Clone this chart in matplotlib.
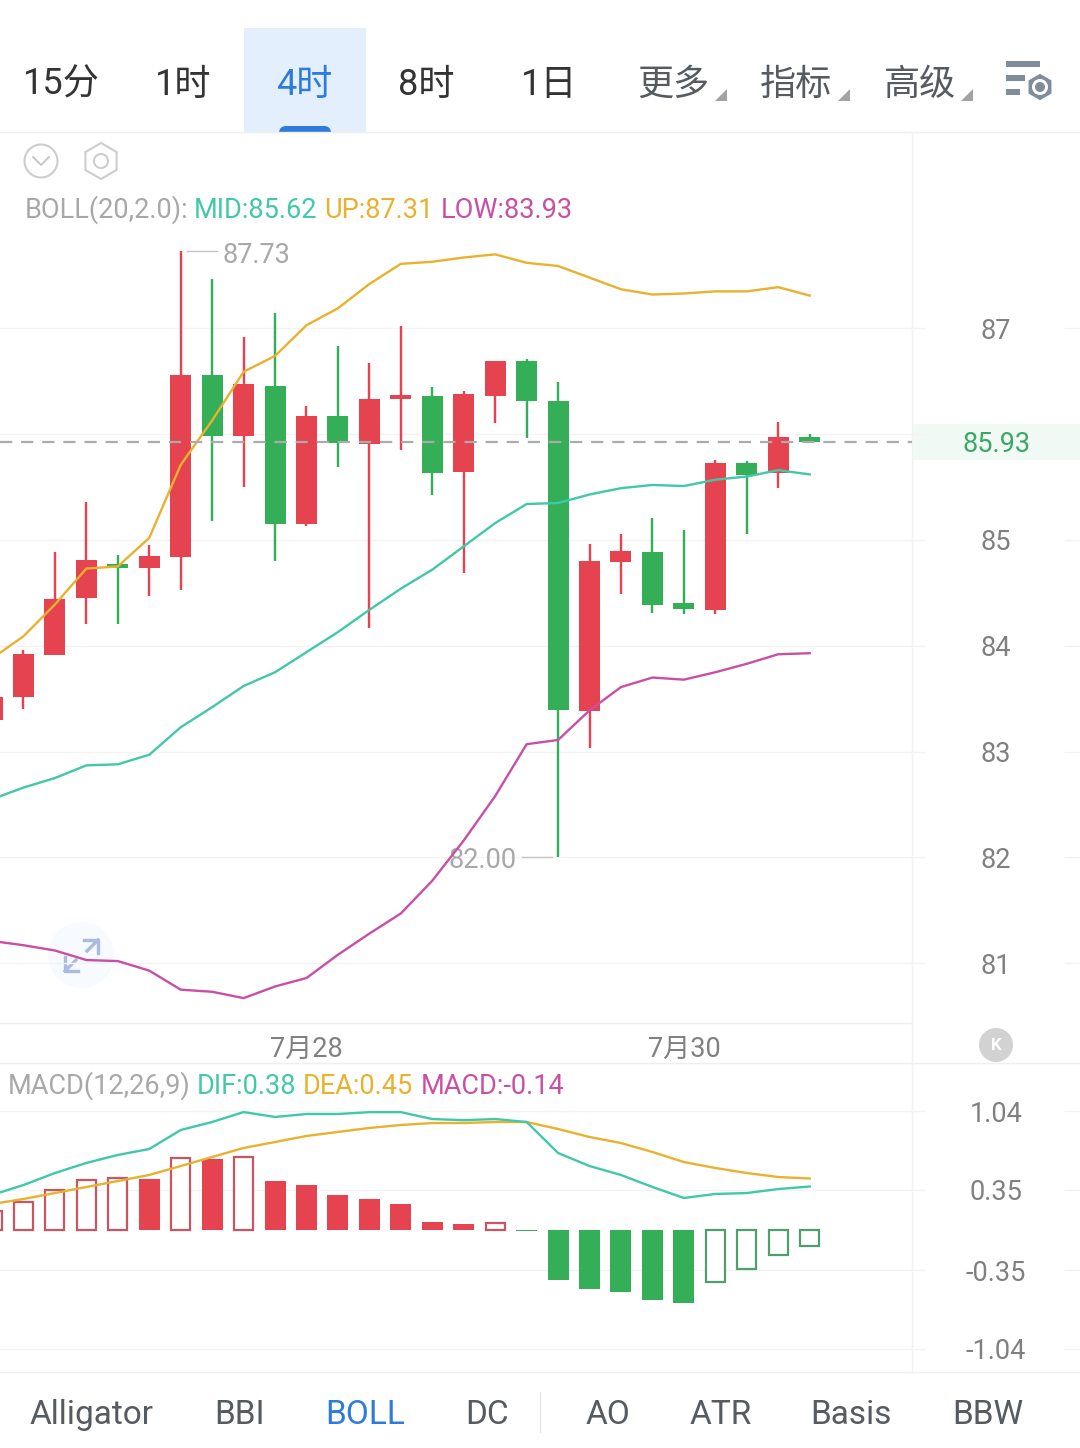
import matplotlib
matplotlib.use('Agg')
import matplotlib.pyplot as plt
import numpy as np
from matplotlib.patches import Circle, FancyBboxPatch, Polygon, RegularPolygon, Rectangle

plt.rcParams['font.family'] = ['Roboto', 'Noto Sans CJK SC', 'DejaVu Sans']

# 4h candles
opens = [83.30, 83.52, 83.91, 84.45, 84.77, 84.74, 84.84, 86.56, 85.98, 86.46, 85.15, 86.17, 85.91, 86.33,
         86.36, 85.64, 86.36, 86.69, 86.31, 83.38, 84.79, 84.89, 84.40, 84.34, 85.73, 85.63, 85.97]
closes = [83.52, 83.92, 84.44, 84.81, 84.74, 84.85, 86.56, 85.98, 86.47, 85.15, 86.17, 85.92, 86.33, 86.37,
          85.63, 86.38, 86.69, 86.31, 83.39, 84.80, 84.90, 84.39, 84.35, 85.73, 85.61, 85.97, 85.93]
highs = [83.55, 83.96, 84.89, 85.36, 84.86, 84.95, 87.73, 87.47, 86.92, 87.15, 86.27, 86.83, 86.67, 87.02,
         86.45, 86.41, 86.69, 86.71, 86.49, 84.96, 85.06, 85.21, 85.09, 85.76, 85.75, 86.12, 86.00]
lows = [83.30, 83.40, 83.91, 84.21, 84.21, 84.47, 84.53, 85.18, 85.50, 84.80, 85.13, 85.69, 84.17, 85.85,
        85.43, 84.69, 86.11, 85.96, 82.00, 83.03, 84.49, 84.31, 84.30, 84.30, 85.06, 85.49, 85.92]

boll_up = [83.88, 84.09, 84.39, 84.73, 84.75, 85.02, 85.71, 86.13, 86.59, 86.74, 87.03, 87.19, 87.42, 87.61,
           87.63, 87.67, 87.70, 87.62, 87.59, 87.48, 87.37, 87.32, 87.33, 87.35, 87.35, 87.39, 87.31]
boll_mid = [82.55, 82.66, 82.75, 82.87, 82.88, 82.97, 83.23, 83.42, 83.62, 83.75, 83.94, 84.13, 84.34, 84.54,
            84.72, 84.94, 85.16, 85.34, 85.35, 85.43, 85.49, 85.52, 85.51, 85.57, 85.60, 85.66, 85.62]
boll_low = [81.21, 81.17, 81.12, 81.03, 81.02, 80.93, 80.75, 80.73, 80.67, 80.78, 80.86, 81.08, 81.28, 81.47,
            81.78, 82.16, 82.58, 83.07, 83.11, 83.39, 83.61, 83.70, 83.68, 83.75, 83.83, 83.92, 83.93]

macd_hist = [0.17, 0.245, 0.35, 0.437, 0.455, 0.446, 0.629, 0.621, 0.638, 0.428, 0.393, 0.306, 0.271, 0.227,
             0.07, 0.052, 0.061, -0.005, -0.437, -0.516, -0.542, -0.612, -0.638, -0.455, -0.341, -0.219, -0.14]
macd_hollow = [1, 1, 1, 1, 1, 0, 1, 0, 1, 0, 0, 0, 0, 0, 0, 0, 1, 0, 0, 0, 0, 0, 0, 1, 1, 1, 1]
dif = [0.306, 0.393, 0.498, 0.586, 0.656, 0.708, 0.874, 0.944, 1.031, 0.988, 1.014, 1.014, 1.03, 1.03,
       0.97, 0.96, 0.97, 0.944, 0.673, 0.559, 0.481, 0.376, 0.28, 0.315, 0.323, 0.358, 0.38]
dea = [0.227, 0.271, 0.323, 0.376, 0.428, 0.481, 0.559, 0.638, 0.717, 0.769, 0.822, 0.857, 0.892, 0.918,
       0.935, 0.935, 0.944, 0.944, 0.883, 0.813, 0.76, 0.682, 0.594, 0.542, 0.498, 0.463, 0.45]

price_ticks = [81, 82, 83, 84, 85, 86, 87]
price_labels = ['81', '82', '83', '84', '85', '', '87']
macd_ticks = [-1.04, -0.35, 0.35, 1.04]
macd_labels = ['-1.04', '-0.35', '0.35', '1.04']
date_ticks = [10, 22]
date_labels = ['7月28', '7月30']
last_price = 85.93

top_tabs = ['15分', '1时', '4时', '8时', '1日', '更多', '指标', '高级']
top_tab_x = [61, 183, 304, 426, 549, 673, 796, 920]
bottom_tabs = ['Alligator', 'BBI', 'BOLL', 'DC', 'AO', 'ATR', 'Basis', 'BBW']
bottom_tab_x = [92, 240, 365, 487, 608, 721, 851, 988]

RED = '#e5434f'
GREEN = '#34ae57'
RED_EDGE = '#c95563'
GREEN_EDGE = '#4f9e6b'
TEAL = '#41c8a8'
GOLD = '#e9b12e'
PINK = '#c94fa6'
BLUE = '#2d7bdb'
GRAY_TEXT = '#a8a8a8'
TICK_TEXT = '#808080'
GRID = '#f3f3f3'
W, H = 1080, 1448
PITCH = 31.45  # pixels per candle
X0 = -8        # pixel of candle 0
LINE_W = 1.7


def px_rect(left, top, right, bottom):
    return [left / W, 1 - bottom / H, (right - left) / W, (bottom - top) / H]


fig = plt.figure(figsize=(W / 100, H / 100), dpi=100, facecolor='white')

# ---- app chrome, drawn in pixel space ----
ui = fig.add_axes([0, 0, 1, 1])
ui.set_xlim(0, W)
ui.set_ylim(H, 0)
ui.axis('off')

ui.add_patch(Rectangle((244, 28), 122, 104, fc='#e3effc', ec='none'))
ui.add_patch(FancyBboxPatch((282, 129), 46, 8, boxstyle='round,pad=0,rounding_size=4',
                            fc=BLUE, ec=BLUE, lw=6 * 0.72, clip_on=True))
ui.add_patch(Rectangle((244, 132), 122, 12, fc='white', ec='none'))
for i, (label, x) in enumerate(zip(top_tabs, top_tab_x)):
    color = BLUE if i == 2 else ('#333333' if i < 5 else '#555b61')
    ui.text(x, 85, label, fontsize=26, color=color, ha='center', va='center')
for x in [727, 850, 973]:
    ui.add_patch(Polygon([(x, 89), (x, 101), (x - 12, 101)], fc='#a3a3a3', ec='none'))

# settings icon
for x1, y in [(1040, 64), (1025, 78), (1020, 92)]:
    ui.add_patch(Rectangle((1006, y - 3), x1 - 1006, 6, fc='#7f8c9a', ec='none'))
ui.add_patch(RegularPolygon((1040, 87), 6, radius=14, fc='#7f8c9a', ec='white', lw=1))
ui.add_patch(Circle((1040, 87), 8, fc='white', ec='none'))
ui.add_patch(Circle((1040, 87), 5, fc='#7f8c9a', ec='none'))

# collapse and settings buttons
ui.add_patch(Circle((41, 161), 16.5, fc='none', ec='#cdcdcd', lw=1.5))
ui.plot([33, 41, 49], [157, 165, 157], color='#c4c4c4', lw=1.3)
ui.add_patch(RegularPolygon((101, 161), 6, radius=18, fc='none', ec='#cdcdcd', lw=1.5))
ui.add_patch(Circle((101, 161), 7, fc='none', ec='#cdcdcd', lw=1.5))

# fullscreen button
ui.add_patch(Circle((81, 955), 33, fc='#f7faff', ec='none'))
ui.plot([84, 98, 98], [940, 940, 953], color='#a9bbe0', lw=2.4)
ui.plot([98, 87], [940, 951], color='#a9bbe0', lw=2.4)
ui.plot([65, 65, 78], [957, 971, 971], color='#a9bbe0', lw=2.4)
ui.plot([65, 76], [971, 960], color='#a9bbe0', lw=2.4)

# current price band
ui.add_patch(Rectangle((912, 424), 168, 36, fc='#f1f9f4', ec='none'))
ui.text(997, 445, f'{last_price:.2f}', fontsize=19.5, color='#3aa864', ha='center', va='center')

# panel borders
for y in [132, 1063, 1372]:
    ui.plot([0, W], [y, y], color='#efefef', lw=1)
ui.plot([0, 912], [1023, 1023], color='#efefef', lw=1)
ui.plot([912, 912], [132, 1372], color='#f1f1f1', lw=1)

# header values of both indicators
for s, x, c in [('BOLL(20,2.0):', 25, GRAY_TEXT), ('MID:85.62', 194, TEAL),
                ('UP:87.31', 324, GOLD), ('LOW:83.93', 441, PINK)]:
    ui.text(x, 210, s, fontsize=19.5, color=c, ha='left', va='center')
for s, x, c in [('MACD(12,26,9)', 8, GRAY_TEXT), ('DIF:0.38', 197, TEAL),
                ('DEA:0.45', 303, GOLD), ('MACD:-0.14', 421, PINK)]:
    ui.text(x, 1086, s, fontsize=19.5, color=c, ha='left', va='center')

# jump to latest button
ui.add_patch(Circle((996, 1045), 17, fc='#d2d2d2', ec='none'))
ui.text(996, 1045, 'K', fontsize=12, color='white', ha='center', va='center', fontweight='bold')

# bottom indicator tabs
for label, x in zip(bottom_tabs, bottom_tab_x):
    ui.text(x, 1415, label, fontsize=24, color=BLUE if label == 'BOLL' else '#555b61', ha='center', va='center')
ui.plot([540, 540], [1392, 1432], color='#e6e6e6', lw=1)

# ---- price panel ----
idx = np.arange(len(opens))
ax = fig.add_axes(px_rect(0, 132, 912, 1023))
ax.patch.set_alpha(0)
ax.set_xlim((0 - X0) / PITCH, (912 - X0) / PITCH)
ax.set_ylim(85 - 483 / 105.8, 85 + 408 / 105.8)

colors = [RED if c >= o else GREEN for o, c in zip(opens, closes)]
ax.vlines(idx, lows, highs, colors=colors, lw=2.4 * 0.72, zorder=3)
ax.bar(idx, np.array(closes) - np.array(opens), bottom=opens, width=21 / PITCH, color=colors, zorder=3)

ax.plot(idx, boll_up, color=GOLD, lw=LINE_W, zorder=4)
ax.plot(idx, boll_mid, color=TEAL, lw=LINE_W, zorder=4)
ax.plot(idx, boll_low, color=PINK, lw=LINE_W, zorder=4)

ax.axhline(last_price, color='#ababab', lw=1.6, dashes=(5.5, 4), zorder=5)

# highest and lowest marks
i_hi = int(np.argmax(highs))
i_lo = int(np.argmin(lows))
ax.plot([i_hi + 6 / PITCH, i_hi + 36 / PITCH], [highs[i_hi]] * 2, color='#c4c4c4', lw=1)
ax.annotate(f'{highs[i_hi]:.2f}', (i_hi, highs[i_hi]), xytext=(42, -4), textcoords='offset pixels',
            fontsize=19.5, color=GRAY_TEXT, ha='left', va='center')
ax.plot([i_lo - 36 / PITCH, i_lo - 6 / PITCH], [lows[i_lo]] * 2, color='#c4c4c4', lw=1)
ax.annotate(f'{lows[i_lo]:.2f}', (i_lo, lows[i_lo]), xytext=(-41, -3), textcoords='offset pixels',
            fontsize=19.5, color=GRAY_TEXT, ha='right', va='center')

ax.set_yticks(price_ticks, price_labels)
ax.set_xticks(date_ticks, date_labels)
ax.yaxis.tick_right()
ax.grid(axis='y', color=GRID, lw=1, zorder=0)
ax.tick_params(axis='y', length=13 * 0.72, width=1, color=GRID, pad=71 * 0.72, labelsize=19.5, labelcolor=TICK_TEXT)
ax.tick_params(axis='x', length=0, pad=9, labelsize=19.5, labelcolor=TICK_TEXT)
for lbl in ax.get_yticklabels():
    lbl.set_ha('center')
for t in price_ticks:
    if t != 86:
        ax.plot([1065 / 912, 1080 / 912], [t, t], transform=ax.get_yaxis_transform(), color=GRID, lw=1, clip_on=False)
for s in ax.spines.values():
    s.set_visible(False)

# ---- MACD panel ----
mx = fig.add_axes(px_rect(0, 1063, 912, 1372))
mx.patch.set_alpha(0)
mx.set_xlim(ax.get_xlim())
mx.set_ylim(-142 / 114.4, 167 / 114.4)

for i, v in enumerate(macd_hist):
    fill = RED if v > 0 else GREEN
    edge = RED_EDGE if v > 0 else GREEN_EDGE
    if macd_hollow[i]:
        mx.bar(i, v, width=19 / PITCH, facecolor='white', edgecolor=edge, lw=1.6, zorder=3)
    else:
        mx.bar(i, v, width=21 / PITCH, color=fill, zorder=3)
mx.plot(idx, dea, color=GOLD, lw=LINE_W, zorder=4)
mx.plot(idx, dif, color=TEAL, lw=LINE_W, zorder=4)

mx.set_yticks(macd_ticks, macd_labels)
mx.set_xticks([])
mx.yaxis.tick_right()
mx.grid(axis='y', color=GRID, lw=1, zorder=0)
mx.tick_params(axis='y', length=13 * 0.72, width=1, color=GRID, pad=71 * 0.72, labelsize=19.5, labelcolor=TICK_TEXT)
for lbl in mx.get_yticklabels():
    lbl.set_ha('center')
for t in macd_ticks:
    mx.plot([1065 / 912, 1080 / 912], [t, t], transform=mx.get_yaxis_transform(), color=GRID, lw=1, clip_on=False)
for s in mx.spines.values():
    s.set_visible(False)

fig.savefig('out.png', dpi=100)
